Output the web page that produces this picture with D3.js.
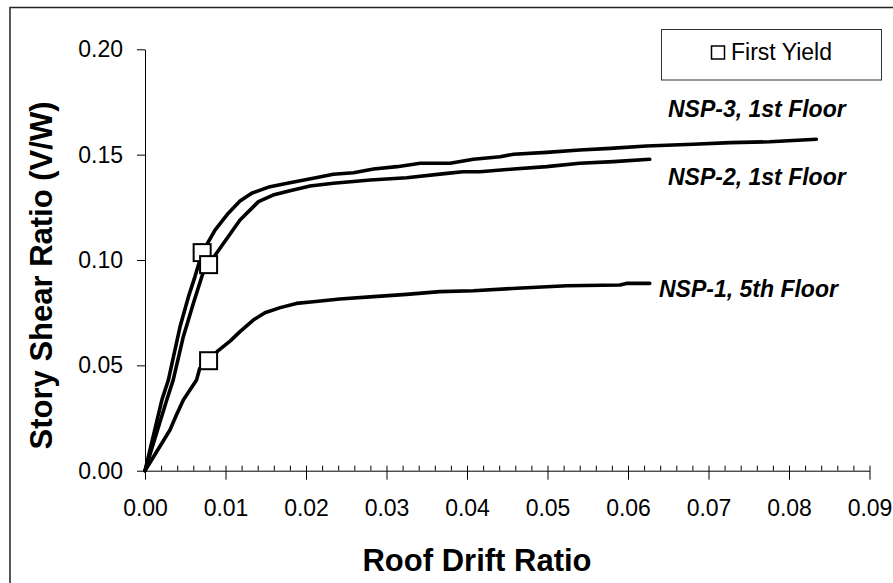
<!DOCTYPE html>
<html>
<head>
<meta charset="utf-8">
<script src="https://cdn.jsdelivr.net/npm/d3@7"></script>
<style>
  html, body { margin: 0; padding: 0; background: #fff; }
  svg { display: block; font-family: "Liberation Sans", Arial, sans-serif; }
</style>
</head>
<body>
<svg id="chart" width="893" height="583"></svg>
<script>
// ---------------- data ----------------
const xTickValues = [0, 0.01, 0.02, 0.03, 0.04, 0.05, 0.06, 0.07, 0.08, 0.09];
const xMinorTickValues = d3.range(0, 0.0901, 0.002);
const yTickValues = [0, 0.05, 0.10, 0.15, 0.20];

const seriesNames = ["NSP-3, 1st Floor", "NSP-2, 1st Floor", "NSP-1, 5th Floor"];

const nsp3Drift = [0, 0.0021, 0.0029, 0.00435, 0.0054, 0.0062, 0.0071, 0.0087, 0.01035, 0.0118, 0.01325, 0.01553, 0.018, 0.0209, 0.0234, 0.0259, 0.0284, 0.0313, 0.0342, 0.0379, 0.0408, 0.0441, 0.0458, 0.0499, 0.054, 0.0578, 0.0623, 0.0681, 0.0727, 0.0776, 0.0834];
const nsp3Shear = [0, 0.0336, 0.043, 0.0683, 0.0826, 0.092, 0.1035, 0.1142, 0.1222, 0.128, 0.1317, 0.1348, 0.1367, 0.1388, 0.1407, 0.1414, 0.1432, 0.1443, 0.1459, 0.1459, 0.1478, 0.149, 0.1502, 0.1511, 0.1522, 0.153, 0.1541, 0.1549, 0.1557, 0.1561, 0.1573];

const nsp2Drift = [0, 0.0027, 0.0035, 0.00476, 0.006, 0.00745, 0.0079, 0.0093, 0.0118, 0.0141, 0.0159, 0.018, 0.0205, 0.0234, 0.028, 0.0325, 0.0375, 0.0395, 0.0416, 0.0458, 0.0499, 0.054, 0.0582, 0.0627];
const nsp2Shear = [0, 0.0336, 0.043, 0.0636, 0.0794, 0.0968, 0.0978, 0.1055, 0.119, 0.1277, 0.1308, 0.1329, 0.1351, 0.1364, 0.138, 0.139, 0.1411, 0.1419, 0.1419, 0.1432, 0.1443, 0.1459, 0.1467, 0.1478];

const nsp1Drift = [0, 0.0031, 0.0039, 0.00476, 0.0064, 0.0068, 0.0079, 0.0091, 0.0106, 0.0118, 0.01345, 0.0149, 0.0168, 0.0188, 0.0209, 0.0242, 0.0284, 0.0325, 0.0366, 0.0408, 0.0462, 0.0524, 0.059, 0.0598, 0.0627];
const nsp1Shear = [0, 0.0193, 0.0264, 0.0336, 0.043, 0.0486, 0.0522, 0.057, 0.0616, 0.066, 0.0715, 0.075, 0.0774, 0.0794, 0.0802, 0.0815, 0.0826, 0.0837, 0.085, 0.0854, 0.0866, 0.0878, 0.0881, 0.0889, 0.0889];

const yieldDrift = [0.0071, 0.0079, 0.0079];
const yieldShear = [0.1035, 0.0978, 0.0522];

const legendLabel = "First Yield";
const xTitle = "Roof Drift Ratio";
const yTitle = "Story Shear Ratio (V/W)";

// ---------------- drawing ----------------
const svg = d3.select("#chart");
const FONT = 23;

const x = d3.scaleLinear().domain([0, 0.09]).range([145, 869.5]);
const y = d3.scaleLinear().domain([0, 0.20]).range([470.7, 49.3]);

// outer frame
svg.append("rect")
  .attr("x", 10).attr("y", 7.5)
  .attr("width", 900).attr("height", 620)
  .attr("fill", "none").attr("stroke", "#222").attr("stroke-width", 1.5);

// x axis: major ticks (down) + labels
const xAxis = svg.append("g")
  .attr("transform", `translate(0,${y(0)})`)
  .call(d3.axisBottom(x).tickValues(xTickValues).tickFormat(d3.format(".2f"))
    .tickSizeInner(9).tickSizeOuter(0).tickPadding(20));
xAxis.select(".domain").attr("stroke", "#000");
xAxis.selectAll(".tick line").attr("stroke", "#000");
xAxis.selectAll(".tick text").attr("font-size", FONT).attr("fill", "#000")
  .attr("font-family", "Liberation Sans, Arial, sans-serif");

// x axis minor ticks (up)
const xMinor = svg.append("g")
  .attr("transform", `translate(0,${y(0)})`)
  .call(d3.axisTop(x).tickValues(xMinorTickValues).tickFormat("").tickSizeInner(5).tickSizeOuter(0));
xMinor.select(".domain").remove();
xMinor.selectAll(".tick line").attr("stroke", "#000");

// y axis
const yAxis = svg.append("g")
  .attr("transform", `translate(${x(0)},0)`)
  .call(d3.axisLeft(y).tickValues(yTickValues).tickFormat(d3.format(".2f"))
    .tickSizeInner(8).tickSizeOuter(0).tickPadding(14));
yAxis.select(".domain").attr("stroke", "#000");
yAxis.selectAll(".tick line").attr("stroke", "#000");
yAxis.selectAll(".tick text").attr("font-size", FONT).attr("fill", "#000")
  .attr("font-family", "Liberation Sans, Arial, sans-serif");

// curves
const line = d3.line().x(d => x(d[0])).y(d => y(d[1]));
const curves = [
  d3.zip(nsp3Drift, nsp3Shear),
  d3.zip(nsp2Drift, nsp2Shear),
  d3.zip(nsp1Drift, nsp1Shear)
];
svg.append("g").selectAll("path").data(curves).join("path")
  .attr("d", line)
  .attr("fill", "none").attr("stroke", "#000")
  .attr("stroke-width", 3.6).attr("stroke-linejoin", "round").attr("stroke-linecap", "round");

// first-yield markers
const MS = 17;
svg.append("g").selectAll("rect").data(d3.zip(yieldDrift, yieldShear)).join("rect")
  .attr("x", d => x(d[0]) - MS / 2).attr("y", d => y(d[1]) - MS / 2)
  .attr("width", MS).attr("height", MS)
  .attr("fill", "#fff").attr("stroke", "#000").attr("stroke-width", 2);

// series labels
const labelPos = [[668, 117], [668, 185], [659, 297]];
svg.append("g").selectAll("text").data(seriesNames).join("text")
  .attr("x", (d, i) => labelPos[i][0]).attr("y", (d, i) => labelPos[i][1])
  .attr("font-size", FONT).attr("font-weight", "bold").attr("font-style", "italic")
  .attr("fill", "#000")
  .text(d => d);

// legend
const lg = svg.append("g");
lg.append("rect").attr("x", 661.5).attr("y", 29.5).attr("width", 220).attr("height", 50.5)
  .attr("fill", "#fff").attr("stroke", "#333").attr("stroke-width", 1);
lg.append("rect").attr("x", 711.5).attr("y", 46).attr("width", 13).attr("height", 13)
  .attr("fill", "#fff").attr("stroke", "#000").attr("stroke-width", 1.5);
lg.append("text").attr("x", 731).attr("y", 60)
  .attr("font-size", FONT).attr("fill", "#000").text(legendLabel);

// axis titles
svg.append("text")
  .attr("x", 477).attr("y", 571)
  .attr("text-anchor", "middle")
  .attr("font-size", 31).attr("font-weight", "bold").attr("fill", "#000")
  .text(xTitle);

svg.append("text")
  .attr("transform", "translate(52,275.5) rotate(-90)")
  .attr("text-anchor", "middle")
  .attr("font-size", 31).attr("font-weight", "bold").attr("fill", "#000")
  .text(yTitle);
</script>
</body>
</html>
